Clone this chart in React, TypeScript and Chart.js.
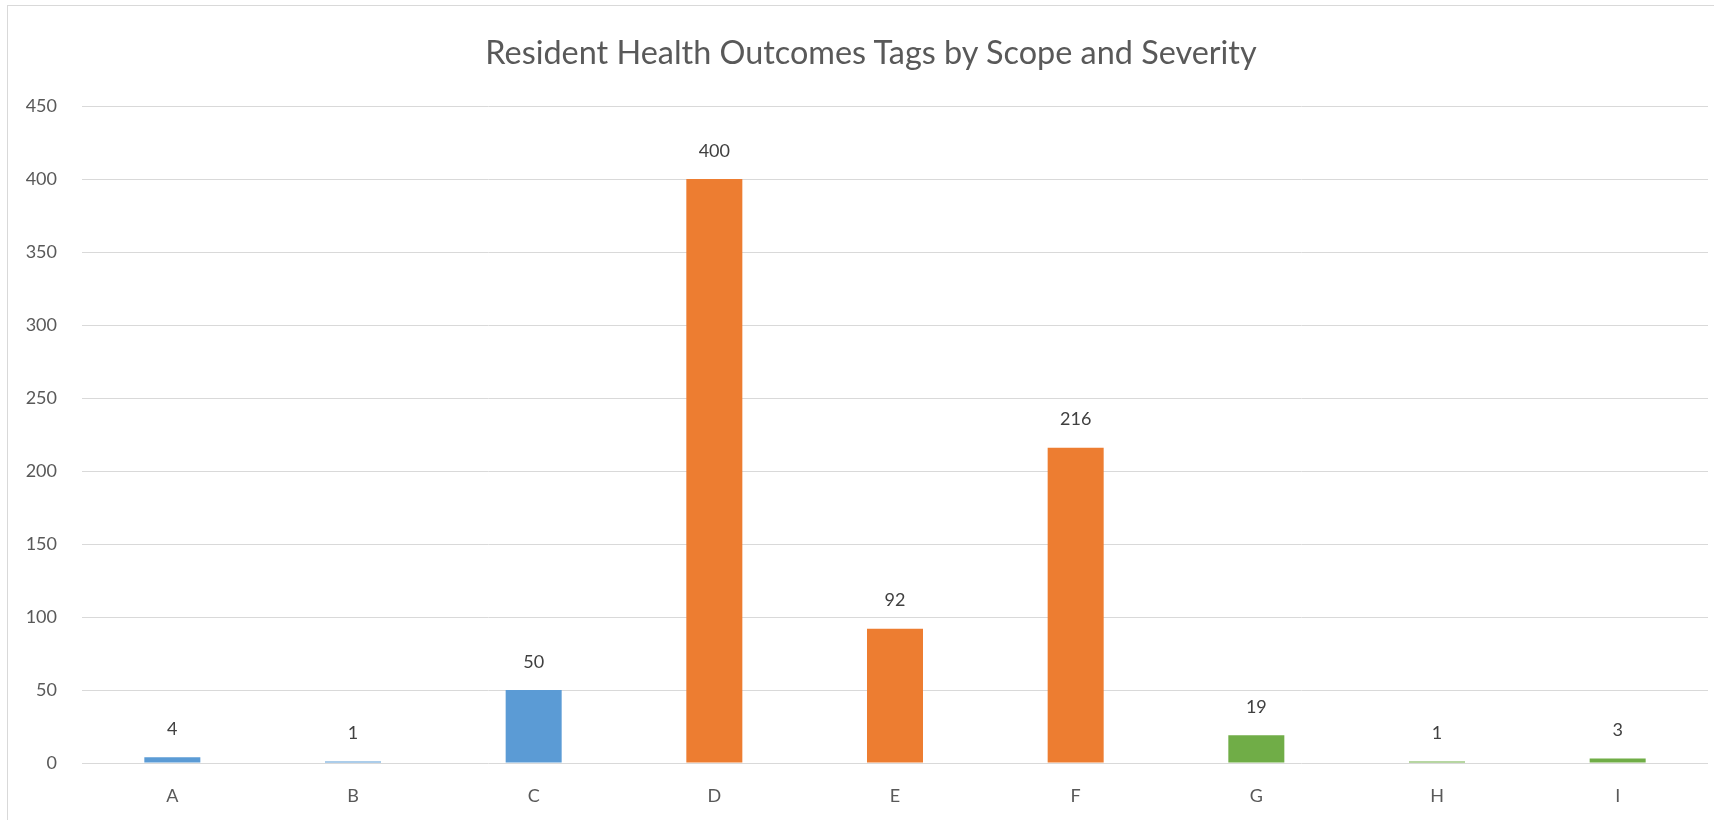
import React, { useEffect, useRef } from "react";
import { Chart, registerables } from "chart.js";

Chart.register(...registerables);

const categories = ["A", "B", "C", "D", "E", "F", "G", "H", "I"];
const tagCounts = [4, 1, 50, 400, 92, 216, 19, 1, 3];
const barColors = [
  "#5B9BD5", "#5B9BD5", "#5B9BD5",
  "#ED7D31", "#ED7D31", "#ED7D31",
  "#70AD47", "#70AD47", "#70AD47",
];
const titleText = "Resident Health Outcomes Tags by Scope and Severity";
const yMax = 450;
const yStep = 50;

const FONT = "Lato, 'Open Sans', sans-serif";

const valueLabels = {
  id: "valueLabels",
  afterDatasetsDraw(chart: any) {
    const ctx = chart.ctx;
    const meta = chart.getDatasetMeta(0);
    const data = chart.data.datasets[0].data as number[];
    ctx.save();
    ctx.font = `18px ${FONT}`;
    ctx.fillStyle = "#404040";
    ctx.textAlign = "center";
    ctx.textBaseline = "middle";
    meta.data.forEach((bar: any, i: number) => {
      ctx.fillText(String(data[i]), bar.x, bar.y - 28);
    });
    ctx.restore();
  },
};

export default function App() {
  const canvasRef = useRef<HTMLCanvasElement | null>(null);

  useEffect(() => {
    if (!canvasRef.current) return;
    const chart = new Chart(canvasRef.current, {
      type: "bar",
      data: {
        labels: categories,
        datasets: [
          {
            data: tagCounts,
            backgroundColor: barColors,
            barPercentage: 0.31,
            categoryPercentage: 1,
          },
        ],
      },
      options: {
        animation: false,
        responsive: false,
        maintainAspectRatio: false,
        layout: { padding: { left: 0, right: 6, top: 106, bottom: 0 } },
        plugins: {
          legend: { display: false },
          tooltip: { enabled: false },
          title: { display: false },
        },
        scales: {
          x: {
            grid: { display: false, drawTicks: false },
            border: { display: false },
            ticks: {
              color: "#595959",
              font: { family: FONT, size: 18 },
              padding: 22,
            },
            afterFit: (scale: any) => {
              scale.height = 57;
            },
          },
          y: {
            min: 0,
            max: yMax,
            grid: { color: "#d9d9d9", lineWidth: 1, drawTicks: false },
            border: { display: false },
            ticks: {
              stepSize: yStep,
              color: "#595959",
              font: { family: FONT, size: 18 },
              padding: 25,
            },
            afterFit: (scale: any) => {
              scale.width = 82;
            },
          },
        },
      },
      plugins: [valueLabels],
    });
    return () => chart.destroy();
  }, []);

  return (
    <div
      style={{
        position: "fixed",
        left: 0,
        top: 0,
        width: 1714,
        height: 820,
        overflow: "hidden",
        background: "#ffffff",
      }}
    >
      <div
        style={{
          position: "absolute",
          left: 7,
          top: 5,
          width: 1760,
          height: 900,
          border: "1px solid #d9d9d9",
        }}
      />
      <canvas
        ref={canvasRef}
        width={1714}
        height={820}
        style={{ position: "absolute", left: 0, top: 0 }}
      />
      <div
        style={{
          position: "absolute",
          left: 0,
          top: 33,
          width: 1742,
          textAlign: "center",
          fontFamily: FONT,
          fontSize: 32.4,
          lineHeight: "38px",
          color: "#595959",
          whiteSpace: "nowrap",
        }}
      >
        {titleText}
      </div>
    </div>
  );
}
